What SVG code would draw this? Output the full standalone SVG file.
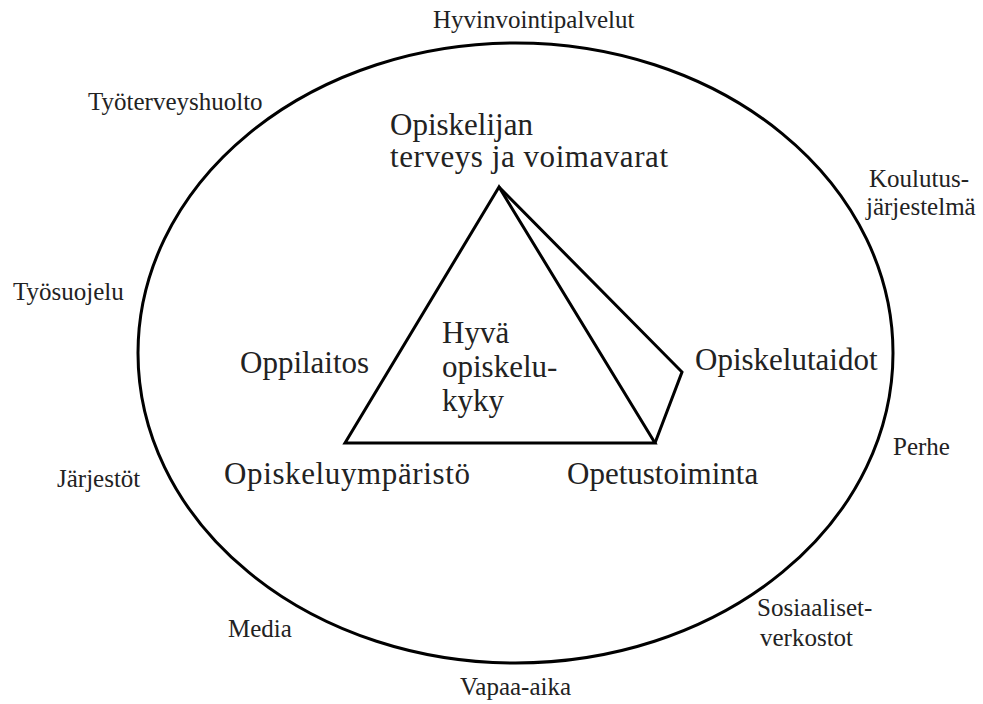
<svg xmlns="http://www.w3.org/2000/svg" width="983" height="704" viewBox="0 0 983 704">
<style>
  .s { font-family: "Liberation Serif", "Times New Roman", serif; font-size: 25px; fill: #222; }
  .b { font-family: "Liberation Serif", "Times New Roman", serif; font-size: 31px; fill: #222; }
  .ln { fill: none; stroke: #000; stroke-width: 3; stroke-linejoin: miter; }
</style>
<rect width="983" height="704" fill="#fff"/>
<g id="outer">
  <ellipse class="ln" cx="515.5" cy="353" rx="377.5" ry="310"/>
</g>
<g id="connectors">
  <polygon class="ln" points="499,187 345,443 655,443"/>
  <polyline class="ln" points="499,187 682,372 655,443"/>
</g>
<g id="n-hyvinvointipalvelut"><text class="s" x="433" y="28">Hyvinvointipalvelut</text></g>
<g id="n-tyoterveyshuolto"><text class="s" x="88" y="110">Työterveyshuolto</text></g>
<g id="n-tyosuojelu"><text class="s" x="13" y="300">Työsuojelu</text></g>
<g id="n-jarjestot"><text class="s" x="57" y="487">Järjestöt</text></g>
<g id="n-media"><text class="s" x="228" y="637">Media</text></g>
<g id="n-vapaa-aika"><text class="s" x="460" y="695">Vapaa-aika</text></g>
<g id="n-sosiaaliset"><text class="s" x="757" y="616">Sosiaaliset-</text><text class="s" x="760" y="646">verkostot</text></g>
<g id="n-perhe"><text class="s" x="893" y="455">Perhe</text></g>
<g id="n-koulutus"><text class="s" x="869" y="187">Koulutus-</text><text class="s" x="866" y="215">järjestelmä</text></g>
<g id="n-terveys"><text class="b" x="390" y="135">Opiskelijan</text><text class="b" x="390" y="167" textLength="278">terveys ja voimavarat</text></g>
<g id="n-oppilaitos"><text class="b" x="240" y="373">Oppilaitos</text></g>
<g id="n-hyva"><text class="b" x="442" y="343">Hyvä</text><text class="b" x="442" y="377">opiskelu-</text><text class="b" x="442" y="411">kyky</text></g>
<g id="n-opiskelutaidot"><text class="b" x="695" y="370">Opiskelutaidot</text></g>
<g id="n-ymparisto"><text class="b" x="224" y="484" textLength="246">Opiskeluympäristö</text></g>
<g id="n-opetustoiminta"><text class="b" x="567" y="484">Opetustoiminta</text></g>
</svg>
